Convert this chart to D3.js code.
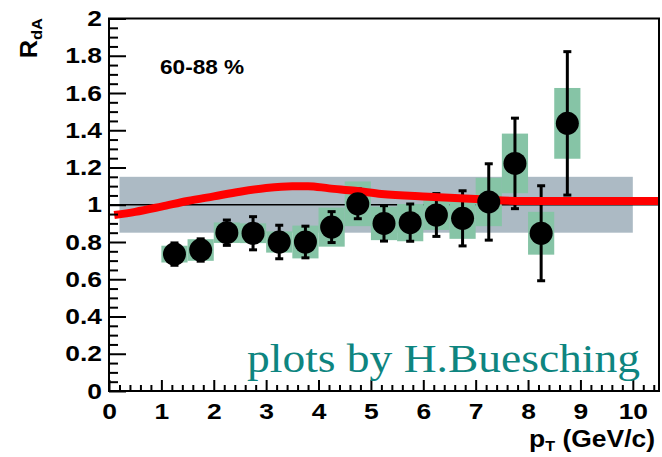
<!DOCTYPE html>
<html>
<head>
<meta charset="utf-8">
<script src="https://cdn.jsdelivr.net/npm/d3@7"></script>
<style>
  html, body { margin: 0; padding: 0; background: #ffffff; }
  svg { display: block; }
</style>
</head>
<body>
<svg id="chart" width="662" height="457"></svg>
<script>
// R_dA versus pT, 60-88 % centrality
const pt      = [1.25, 1.75, 2.25, 2.75, 3.25, 3.75, 4.25, 4.75, 5.25, 5.75, 6.25, 6.75, 7.25, 7.75, 8.25, 8.75];
const rdA     = [0.735, 0.757, 0.85, 0.847, 0.80, 0.80, 0.88, 1.005, 0.90, 0.904, 0.945, 0.927, 1.015, 1.222, 0.847, 1.437];
const statErr = [0.06, 0.06, 0.068, 0.089, 0.09, 0.085, 0.083, 0.08, 0.095, 0.10, 0.115, 0.148, 0.205, 0.243, 0.255, 0.385];
const sysErr  = [0.045, 0.058, 0.055, 0.053, 0.057, 0.088, 0.105, 0.12, 0.09, 0.10, 0.08, 0.11, 0.13, 0.16, 0.115, 0.19];
const binHalf = 0.25;

// Global normalisation uncertainty band
const bandX = [0.2, 10];
const bandY = [0.85, 1.15];

// Theory curve
const curveX = [0.1, 0.5, 1.0, 1.5, 2.0, 2.5, 3.0, 3.5, 3.8, 4.2, 4.7, 5.2, 6.1, 7.1, 7.9, 8.5, 10.5];
const curveY = [0.945, 0.962, 0.99, 1.02, 1.045, 1.07, 1.09, 1.10, 1.10, 1.088, 1.075, 1.058, 1.043, 1.029, 1.02, 1.02, 1.02];

const xMajor = [0, 1, 2, 3, 4, 5, 6, 7, 8, 9, 10];
const yMajor = [0, 0.2, 0.4, 0.6, 0.8, 1, 1.2, 1.4, 1.6, 1.8, 2];

const svg = d3.select("#chart");
const x = d3.scaleLinear().domain([0, 10.5]).range([109, 659]);
const y = d3.scaleLinear().domain([0, 2]).range([391, 18.5]);

const colBand = "#acbac4", colSys = "#86c4a6", colCurve = "#ff0000", colMark = "#000000";
const stretch = 1.2;

// band
svg.append("rect")
  .attr("x", x(bandX[0])).attr("y", y(bandY[1]))
  .attr("width", x(bandX[1]) - x(bandX[0]))
  .attr("height", y(bandY[0]) - y(bandY[1]))
  .attr("fill", colBand);

// unity line
svg.append("line")
  .attr("x1", x(0)).attr("x2", x(10.5))
  .attr("y1", y(1)).attr("y2", y(1))
  .attr("stroke", "#000").attr("stroke-width", 1.5);

const pts = pt.map((p, i) => ({ p, v: rdA[i], se: statErr[i], sy: sysErr[i] }));

// systematic boxes
svg.append("g").selectAll("rect").data(pts).join("rect")
  .attr("x", d => x(d.p - binHalf))
  .attr("y", d => y(d.v + d.sy))
  .attr("width", d => x(d.p + binHalf) - x(d.p - binHalf))
  .attr("height", d => y(d.v - d.sy) - y(d.v + d.sy))
  .attr("fill", colSys);

// statistical error bars
const eb = svg.append("g").attr("stroke", colMark).attr("stroke-width", 3);
eb.selectAll("line.v").data(pts).join("line").attr("class", "v")
  .attr("x1", d => x(d.p)).attr("x2", d => x(d.p))
  .attr("y1", d => y(d.v + d.se)).attr("y2", d => y(d.v - d.se));
eb.selectAll("line.t").data(pts).join("line").attr("class", "t")
  .attr("x1", d => x(d.p) - 4).attr("x2", d => x(d.p) + 4)
  .attr("y1", d => y(d.v + d.se)).attr("y2", d => y(d.v + d.se));
eb.selectAll("line.b").data(pts).join("line").attr("class", "b")
  .attr("x1", d => x(d.p) - 4).attr("x2", d => x(d.p) + 4)
  .attr("y1", d => y(d.v - d.se)).attr("y2", d => y(d.v - d.se));

// theory curve
const line = d3.line().x(d => x(d[0])).y(d => y(d[1])).curve(d3.curveMonotoneX);
svg.append("path")
  .datum(curveX.map((cx, i) => [cx, curveY[i]]))
  .attr("d", line)
  .attr("fill", "none").attr("stroke", colCurve).attr("stroke-width", 8);

// markers
svg.append("g").selectAll("circle").data(pts).join("circle")
  .attr("cx", d => x(d.p)).attr("cy", d => y(d.v)).attr("r", 11.5)
  .attr("fill", colMark);

// axes
const fontAxis = "'Liberation Sans', Arial, Helvetica, sans-serif";

const yMinor = d3.range(0, 2.0001, 0.05).filter(v => Math.abs(v * 5 - Math.round(v * 5)) > 1e-6);
svg.append("g").attr("transform", `translate(${x(0)},0)`)
  .call(d3.axisLeft(y).tickValues(yMinor).tickSize(-9).tickFormat(""))
  .call(g => g.select(".domain").remove())
  .call(g => g.selectAll("line").attr("stroke", "#000").attr("stroke-width", 2));

const gy = svg.append("g").attr("transform", `translate(${x(0)},0)`)
  .call(d3.axisLeft(y).tickValues(yMajor).tickSize(-17).tickPadding(7).tickFormat(d3.format("")))
  .call(g => g.select(".domain").remove())
  .call(g => g.selectAll("line").attr("stroke", "#000").attr("stroke-width", 2));
gy.selectAll("text")
  .attr("x", null)
  .attr("transform", `translate(-7,0) scale(${stretch},1)`)
  .attr("font-family", fontAxis).attr("font-weight", "bold").attr("font-size", 22)
  .attr("fill", "#000");

const xMinor = d3.range(0, 10.5001, 0.2).filter(v => Math.abs(v - Math.round(v)) > 1e-6);
svg.append("g").attr("transform", `translate(0,${y(0)})`)
  .call(d3.axisBottom(x).tickValues(xMinor).tickSize(-6).tickFormat(""))
  .call(g => g.select(".domain").remove())
  .call(g => g.selectAll("line").attr("stroke", "#000").attr("stroke-width", 2));

const gx = svg.append("g").attr("transform", `translate(0,${y(0)})`)
  .call(d3.axisBottom(x).tickValues(xMajor).tickSize(-11).tickPadding(12).tickFormat(d3.format("")))
  .call(g => g.select(".domain").remove())
  .call(g => g.selectAll("line").attr("stroke", "#000").attr("stroke-width", 2));
gx.selectAll("text")
  .attr("transform", `scale(${stretch},1)`)
  .attr("x", 0)
  .attr("font-family", fontAxis).attr("font-weight", "bold").attr("font-size", 22)
  .attr("fill", "#000");

// frame
svg.append("rect")
  .attr("x", x(0)).attr("y", y(2))
  .attr("width", x(10.5) - x(0)).attr("height", y(0) - y(2))
  .attr("fill", "none").attr("stroke", "#000").attr("stroke-width", 2);

// centrality label
svg.append("text")
  .attr("transform", "translate(160,74) scale(1.16,1)")
  .attr("font-family", fontAxis).attr("font-weight", "bold").attr("font-size", 19.5)
  .text("60-88 %");

// x axis title
const xt = svg.append("text")
  .attr("transform", "translate(655,447) scale(1.15,1)")
  .attr("text-anchor", "end")
  .attr("font-family", fontAxis).attr("font-weight", "bold").attr("font-size", 23);
xt.append("tspan").text("p");
xt.append("tspan").attr("font-size", 14).attr("dy", 4).text("T");
xt.append("tspan").attr("dy", -4).text(" (GeV/c)");

// y axis title
const yt = svg.append("text")
  .attr("transform", "translate(37,18) rotate(-90) scale(1.1,1)")
  .attr("text-anchor", "end")
  .attr("font-family", fontAxis).attr("font-weight", "bold").attr("font-size", 23);
yt.append("tspan").text("R");
yt.append("tspan").attr("font-size", 15).attr("dy", 5).text("dA");

// credit line
svg.append("text")
  .attr("transform", "translate(247,372) scale(1.11,1)")
  .attr("font-family", "'Liberation Serif', 'Times New Roman', serif")
  .attr("font-size", 41)
  .attr("fill", "#0e8580")
  .text("plots by H.Buesching");
</script>
</body>
</html>
